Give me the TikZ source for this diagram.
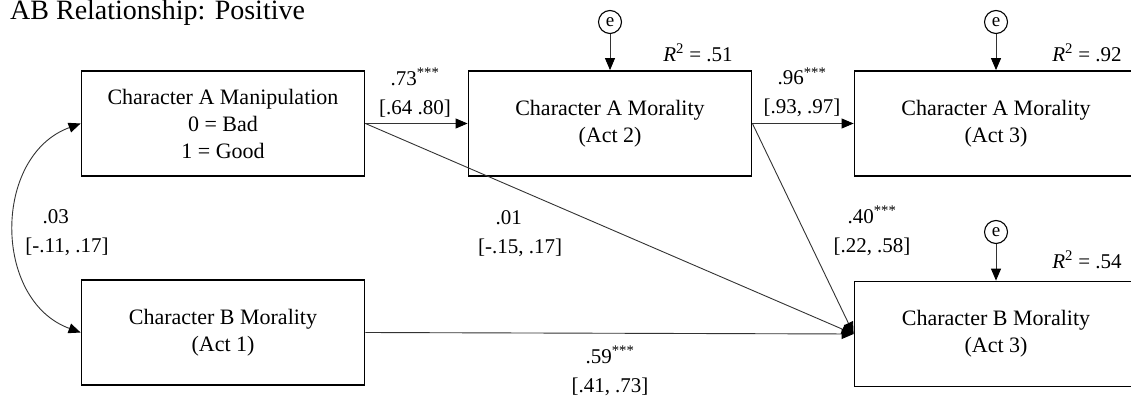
\documentclass[tikz,border=0pt]{standalone}
\usepackage{fontspec}
\setmainfont{Liberation Serif}
\usetikzlibrary{arrows.meta}
\newcommand\stars{\textsuperscript{***}}
\newcommand\nostars{\phantom{\textsuperscript{***}}}
\begin{document}
\begin{tikzpicture}[x=1pt,y=-1pt,
  box/.style={draw=black, line width=1.8pt, minimum width=283pt, minimum height=105pt, inner sep=0pt, align=center, font=\fontsize{22}{27}\selectfont},
  err/.style={draw=black, circle, line width=1.1pt, minimum size=23pt, inner sep=0pt, font=\fontsize{19}{20}\selectfont},
  tip/.tip={Triangle[length=12pt,width=10pt,color=black]},
  conn/.style={draw=black!80, line width=0.9pt, -tip},
  lab/.style={align=center, font=\fontsize{21}{29}\selectfont, inner sep=0pt},
  rsq/.style={font=\fontsize{21}{24}\selectfont, inner sep=0pt}]
\useasboundingbox (0,0) rectangle (1131,398);
\clip (0,0) rectangle (1131,398);

\node[anchor=base west, font=\fontsize{28}{30}\selectfont, inner sep=0pt] (title) at (10,20) {AB Relationship: Positive};

\node[box] (b1) at (223,123.5) {Character A Manipulation\\0 = Bad\\1 = Good};
\node[box] (b2) at (610,123.5) {Character A Morality\\(Act 2)};
\node[box] (b3) at (996,123.5) {Character A Morality\\(Act 3)};
\node[box] (b4) at (223,332.5) {Character B Morality\\(Act 1)};
\node[box] (b5) at (996,334) {Character B Morality\\(Act 3)};

\node[err] (e1) at (610,22) {e};
\node[err] (e2) at (996,22) {e};
\node[err] (e3) at (996,232) {e};

\draw[conn] (e1) -- (b2);
\draw[conn] (e2) -- (b3);
\draw[conn] (e3) -- (b5);

\node[rsq] (r1) at (698,53) {\textit{R}\textsuperscript{2} = .51};
\node[rsq] (r2) at (1087,53) {\textit{R}\textsuperscript{2} = .92};
\node[rsq] (r3) at (1087,260) {\textit{R}\textsuperscript{2} = .54};

\draw[conn] (b1.east) -- (b2.west);
\draw[conn] (b2.east) -- (b3.west);
\draw[conn] (b1.east) -- (b5.west);
\draw[conn] (b2.east) -- (b5.west);
\draw[conn] (b4.east) -- (b5.west);
\draw[draw=black!80, line width=0.9pt, tip-tip]
  (b1.west) to[out=200, in=160, looseness=1.15] (b4.west);

\node[lab] (l1) at (415,92.5) {.73\stars\\{}[.64 .80]};
\node[lab] (l2) at (802,92.5) {.96\stars\\{}[.93, .97]};
\node[lab] (l3) at (520,232) {.01\nostars\\{}[-.15, .17]};
\node[lab] (l4) at (872,231) {.40\stars\\{}[.22, .58]};
\node[lab] (l5) at (610,371) {.59\stars\\{}[.41, .73]};
\node[lab] (l6) at (67,231) {.03\nostars\\{}[-.11, .17]};
\end{tikzpicture}
\end{document}
